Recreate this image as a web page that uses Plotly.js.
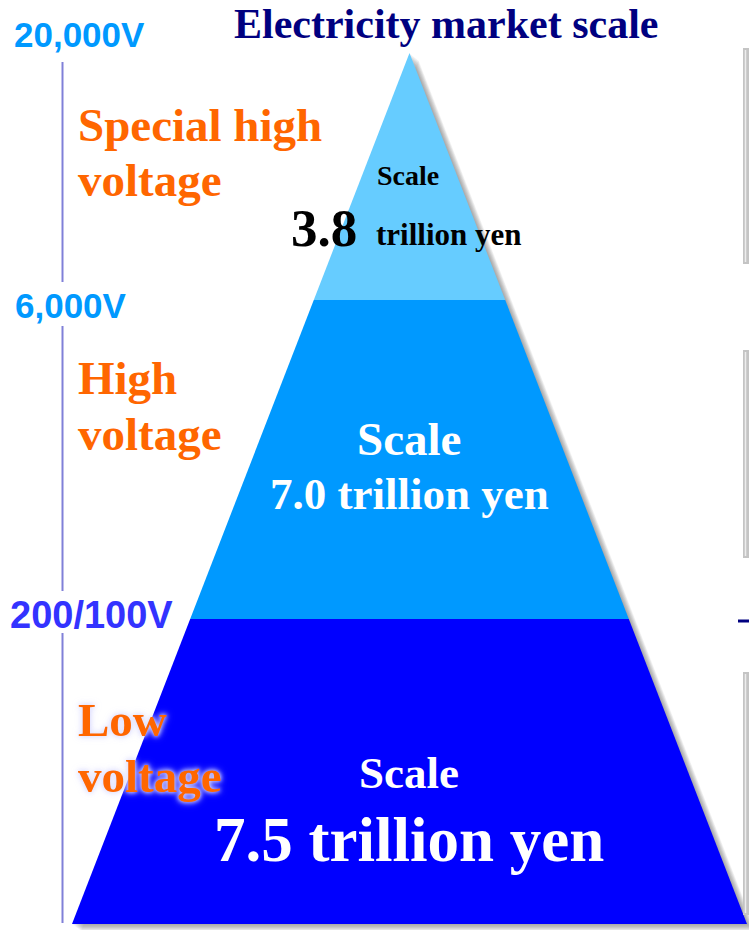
<!DOCTYPE html>
<html>
<head>
<meta charset="utf-8">
<script src="https://cdn.plot.ly/plotly-3.0.1.min.js"></script>
<style>
  html, body { margin: 0; padding: 0; background: #ffffff; }
  #chart { width: 749px; height: 930px; }
</style>
</head>
<body>
<div id="chart"></div>
<script>
// ---- data ----
const chartTitle = 'Electricity market scale';
const tierNames = ['Special high voltage', 'High voltage', 'Low voltage'];
const tierLabelLines = [['Special high', 'voltage'], ['High', 'voltage'], ['Low', 'voltage']];
const marketScale = [3.8, 7.0, 7.5];          // trillion yen
const scaleUnit = 'trillion yen';
const voltageTicks = ['20,000V', '6,000V', '200/100V'];
const tierColors = ['#66CCFF', '#0099FF', '#0000FF'];
const voltageColors = ['#0099FF', '#0099FF', '#3333FF'];

// ---- geometry (pixel space of the page) ----
const W = 749, H = 930;
const apexX = 409.5, apexY = 53, baseY = 924, baseHalf = 337.5;
const tierBounds = [apexY, 300, 619, baseY];   // top -> bottom
function halfW(y) { return baseHalf * (y - apexY) / (baseY - apexY); }

const traces = [];
// soft shadow (offset right/down)
for (let k = 1; k <= 9; k++) {
  const dx = k * 1.0, dy = k * 0.8;
  traces.push({
    type: 'scatter', mode: 'lines', hoverinfo: 'skip',
    x: [apexX + dx, apexX + halfW(baseY) + dx, apexX - halfW(baseY) + dx, apexX + dx],
    y: [apexY + dy, baseY + dy, baseY + dy, apexY + dy],
    fill: 'toself', fillcolor: 'rgba(90,90,90,0.075)', line: { width: 0 }
  });
}
// pyramid tiers
tierNames.forEach((name, i) => {
  const yt = tierBounds[i], yb = tierBounds[i + 1];
  const xs = [apexX - halfW(yt), apexX + halfW(yt), apexX + halfW(yb), apexX - halfW(yb), apexX - halfW(yt)];
  const ys = [yt, yt, yb, yb, yt];
  traces.push({
    type: 'scatter', mode: 'lines', name: name, hoverinfo: 'skip',
    x: xs, y: ys, fill: 'toself', fillcolor: tierColors[i], line: { width: 0 }
  });
});

const serif = 'Liberation Serif, Times New Roman, serif';
const sans = 'Liberation Sans, Arial, sans-serif';
function ann(text, x, baseline, fs, color, family, xanchor) {
  return {
    text: '<b>' + text + '</b>',
    x: x, y: baseline - 0.345 * fs, xref: 'x', yref: 'y',
    xanchor: xanchor || 'center', yanchor: 'middle', showarrow: false,
    font: { size: fs, color: color, family: family }
  };
}

const annotations = [];
// title
const titleAnn = ann(chartTitle, 446, 38, 42, '#000080', serif, 'center');
titleAnn.borderpad = 0;
annotations.push(titleAnn);
// voltage ticks
annotations.push(ann(voltageTicks[0], 12, 47, 35, voltageColors[0], sans, 'left'));
annotations.push(ann(voltageTicks[1], 13, 318, 35, voltageColors[1], sans, 'left'));
annotations.push(ann(voltageTicks[2], 8, 628, 38, voltageColors[2], sans, 'left'));
// tier labels (orange)
const labelBaselines = [[141, 196], [394, 450], [736, 792]];
tierLabelLines.forEach((lines, i) => {
  lines.forEach((ln, j) => {
    annotations.push(ann(ln, 76, labelBaselines[i][j], 47, '#FF6600', serif, 'left'));
  });
});
const glowStart = annotations.length - 2;
// scale texts
annotations.push(ann('Scale', 408, 185, 28, '#000000', serif, 'center'));
annotations.push(ann(marketScale[0].toFixed(1), 289, 246, 53, '#000000', serif, 'left'));
annotations.push(ann(scaleUnit, 374, 245, 31, '#000000', serif, 'left'));

annotations.push(ann('Scale', 409, 455, 47, '#FFFFFF', serif, 'center'));
annotations.push(ann(marketScale[1].toFixed(1) + ' ' + scaleUnit, 409, 510, 45, '#FFFFFF', serif, 'center'));

annotations.push(ann('Scale', 409, 789, 45, '#FFFFFF', serif, 'center'));
annotations.push(ann(marketScale[2].toFixed(1) + ' ' + scaleUnit, 409, 862, 63, '#FFFFFF', serif, 'center'));

// shapes: left vertical scale line, right-side panel edges
const lineColor = '#8080D8';
const shapes = [];
[[62, 282], [326, 591], [633, 923]].forEach(s => {
  shapes.push({ type: 'line', xref: 'x', yref: 'y', x0: 62.5, x1: 62.5, y0: s[0], y1: s[1],
    line: { color: lineColor, width: 2 } });
});
[[48, 264], [350, 558], [672, 915]].forEach(s => {
  shapes.push({ type: 'rect', xref: 'x', yref: 'y', x0: 743, x1: 750, y0: s[0], y1: s[1],
    fillcolor: '#C4C4C4', line: { width: 0 } });
  shapes.push({ type: 'line', xref: 'x', yref: 'y', x0: 745.5, x1: 745.5, y0: s[0] + 2, y1: s[1] - 2,
    line: { color: '#EDEDED', width: 1.5 } });
});
shapes.push({ type: 'line', xref: 'x', yref: 'y', x0: 738, x1: 750, y0: 621, y1: 621,
  line: { color: '#000080', width: 3 } });

const layout = {
  width: W, height: H,
  margin: { l: 0, r: 0, t: 0, b: 0, pad: 0 },
  paper_bgcolor: '#FFFFFF', plot_bgcolor: '#FFFFFF',
  showlegend: false, hovermode: false,
  xaxis: { range: [0, W], visible: false, fixedrange: true },
  yaxis: { range: [H, 0], visible: false, fixedrange: true },
  shapes: shapes,
  annotations: annotations
};

Plotly.newPlot('chart', traces, layout, { staticPlot: true, displayModeBar: false }).then(() => {
  const anns = document.querySelectorAll('#chart g.annotation');
  [glowStart, glowStart + 1].forEach(i => {
    const g = anns[i];
    if (g) g.style.filter = 'drop-shadow(0 0 2px rgba(225,225,255,0.95)) drop-shadow(0 0 3px rgba(215,215,255,0.85))';
  });
});
</script>
</body>
</html>
